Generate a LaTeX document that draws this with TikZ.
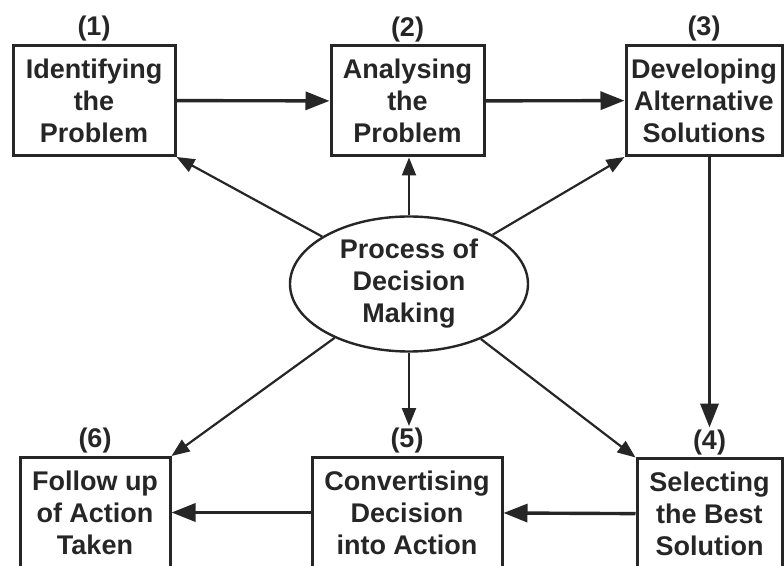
\documentclass[tikz,border=0pt]{standalone}
\usepackage{fontspec}
\setmainfont{Liberation Sans}
\usetikzlibrary{arrows.meta, shapes.geometric}

\begin{document}
\begin{tikzpicture}[x=0.5pt, y=-0.5pt, >={Triangle[length=12pt, width=9pt]}, font=\bfseries\fontsize{13.5}{16}\selectfont, every node/.style={text=black!85, align=center}, stage/.style={draw=black!85, line width=1.5pt, rectangle, minimum height=55pt, inner sep=0pt}, hub/.style={draw=black!85, ellipse, line width=1.2pt, minimum width=119pt, minimum height=67.5pt, inner sep=0pt}, flow/.style={->, draw=black!85, line width=1.7pt}, spoke/.style={-{Triangle[length=9pt, width=7pt]}, draw=black!85, line width=1.1pt}]
	\useasboundingbox (0,0) rectangle (784,566);
	\node[hub] (proc) at (409,284) {Process of\\Decision\\Making};
	\node[stage, minimum width=81pt, label={[name=n1, inner sep=1pt]above:(1)}] (ident) at (94,100.5) {Identifying\\the\\Problem};
	\node[stage, minimum width=76.5pt, label={[name=n2, inner sep=1pt]above:(2)}] (anal) at (407.5,101) {Analysing\\the\\Problem};
	\node[stage, minimum width=78pt, label={[name=n3, inner sep=1pt]above:(3)}] (devel) at (704,100.5) {Developing\\Alternative\\Solutions};
	\node[stage, minimum width=72.5pt, label={[name=n4, inner sep=1pt]above:(4)}] (select) at (709.5,514) {Selecting\\the Best\\Solution};
	\node[stage, minimum width=95pt, label={[name=n5, inner sep=1pt]above:(5)}] (conv) at (407,512.5) {Convertising\\Decision\\into Action};
	\node[stage, minimum width=75pt, label={[name=n6, inner sep=1pt]above:(6)}] (follow) at (95,512.5) {Follow up\\of Action\\Taken};

	\draw[flow] (ident) -- (anal);
	\draw[flow] (anal) -- (devel);
	\draw[flow] (n4.north |- devel.south) -- (n4.north);
	\draw[flow] (select) -- (conv);
	\draw[flow] (conv) -- (follow);

	\draw[spoke] (proc) -- (ident.south east);
	\draw[spoke] (proc.north) -- (proc.north |- anal.south);
	\draw[spoke] (proc) -- (devel.south west);
	\draw[spoke] (proc) -- (select.north west);
	\draw[spoke] (proc.south) -- (proc.south |- n5.north);
	\draw[spoke] (proc) -- (follow.north east);
\end{tikzpicture}
\end{document}
